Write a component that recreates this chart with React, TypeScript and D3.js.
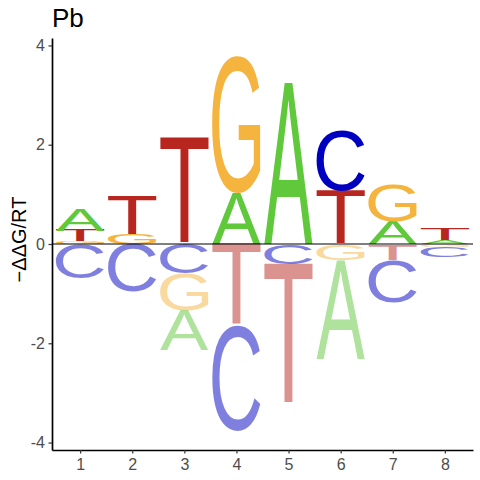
import { useEffect, useRef } from "react";
import * as d3 from "d3";

// Energy logo values (-ΔΔG/RT) per position, one array per base
const positions = [1, 2, 3, 4, 5, 6, 7, 8];
const bases = ["A", "C", "G", "T"];
const valuesA = [0.44, 0, -0.79, 1.03, 3.25, -1.99, 0.45, 0.07];
const valuesC = [-0.69, -0.97, -0.6, -2.13, -0.4, 1.23, -0.86, -0.21];
const valuesG = [0.05, 0.2, -0.74, 2.76, 0, -0.32, 0.74, -0.06];
const valuesT = [0.22, 0.79, 2.14, -1.64, -2.83, 1.08, -0.32, 0.24];
const yTicks = [-4, -2, 0, 2, 4];

const baseColors: Record<string, string> = {
  A: "#5FC83B",
  C: "#0000C0",
  G: "#F5B43E",
  T: "#B8271F",
};

const FONT = "Liberation Sans, Arial, sans-serif";

interface Metrics {
  left: number;
  right: number;
  ascent: number;
  descent: number;
}

function glyphMetrics(): Record<string, Metrics> {
  const canvas = document.createElement("canvas");
  const ctx = canvas.getContext("2d")!;
  ctx.font = `100px ${FONT}`;
  const out: Record<string, Metrics> = {};
  bases.forEach((b) => {
    const m = ctx.measureText(b);
    out[b] = {
      left: m.actualBoundingBoxLeft,
      right: m.actualBoundingBoxRight,
      ascent: m.actualBoundingBoxAscent,
      descent: m.actualBoundingBoxDescent,
    };
  });
  return out;
}

export default function App() {
  const svgRef = useRef<SVGSVGElement>(null);

  useEffect(() => {
    if (!svgRef.current) return;
    const svg = d3.select(svgRef.current);
    svg.selectAll("*").remove();

    const x = d3.scaleLinear().domain([0.46, 8.54]).range([52, 473]);
    const y = d3.scaleLinear().domain([-4.15, 4.15]).range([450, 38]);
    const letterWidth = 0.93;

    const series: Record<string, number[]> = {
      A: valuesA,
      C: valuesC,
      G: valuesG,
      T: valuesT,
    };
    const metrics = glyphMetrics();

    // Stack letters: smallest next to zero, largest furthest out
    const boxes: { base: string; pos: number; lo: number; hi: number; neg: boolean }[] = [];
    positions.forEach((p, i) => {
      const items = bases.map((b) => ({ base: b, v: series[b][i] }));
      const pos = items.filter((d) => d.v > 0.001).sort((a, b) => a.v - b.v);
      const neg = items.filter((d) => d.v < -0.001).sort((a, b) => b.v - a.v);
      let top = 0;
      pos.forEach((d) => {
        boxes.push({ base: d.base, pos: p, lo: top, hi: top + d.v, neg: false });
        top += d.v;
      });
      let bottom = 0;
      neg.forEach((d) => {
        boxes.push({ base: d.base, pos: p, lo: bottom + d.v, hi: bottom, neg: true });
        bottom += d.v;
      });
    });

    const letters = svg.append("g");
    boxes.forEach((d) => {
      const m = metrics[d.base];
      const x0 = x(d.pos - letterWidth / 2);
      const x1 = x(d.pos + letterWidth / 2);
      const yTop = y(d.hi);
      const yBot = y(d.lo);
      const sx = (x1 - x0) / (m.left + m.right);
      const sy = (yBot - yTop) / (m.ascent + m.descent);
      letters
        .append("text")
        .attr("font-family", FONT)
        .attr("font-size", 100)
        .attr("fill", baseColors[d.base])
        .attr("fill-opacity", d.neg ? 0.5 : 1)
        .attr(
          "transform",
          `translate(${x0},${yTop}) scale(${sx},${sy}) translate(${m.left},${m.ascent})`
        )
        .text(d.base);
    });

    // Zero line
    svg
      .append("line")
      .attr("x1", x.range()[0])
      .attr("x2", x.range()[1])
      .attr("y1", y(0))
      .attr("y2", y(0))
      .attr("stroke", "black")
      .attr("stroke-width", 1.1);

    // Axes
    const yAxis = svg
      .append("g")
      .attr("transform", `translate(${x.range()[0]},0)`)
      .call(
        d3
          .axisLeft(y)
          .tickValues(yTicks)
          .tickSize(3.5)
          .tickSizeOuter(0)
          .tickPadding(3.5)
          .tickFormat((d) => String(d))
      );
    yAxis.select(".domain").attr("stroke", "black").attr("stroke-width", 1.7);
    yAxis.selectAll(".tick line").attr("stroke", "#333333").attr("stroke-width", 1.2);
    yAxis
      .selectAll("text")
      .attr("font-family", FONT)
      .attr("font-size", 16)
      .attr("fill", "#4D4D4D");

    const xAxis = svg
      .append("g")
      .attr("transform", `translate(0,${y.range()[0]})`)
      .call(
        d3
          .axisBottom(x)
          .tickValues(positions)
          .tickSize(3.5)
          .tickSizeOuter(0)
          .tickPadding(5.5)
          .tickFormat((d) => String(d))
      );
    xAxis.select(".domain").attr("stroke", "black").attr("stroke-width", 1.7);
    xAxis.selectAll(".tick line").attr("stroke", "#333333").attr("stroke-width", 1.2);
    xAxis
      .selectAll("text")
      .attr("font-family", FONT)
      .attr("font-size", 16)
      .attr("fill", "#4D4D4D");

    // Y-axis label
    svg
      .append("text")
      .attr("transform", "translate(26,239.5) rotate(-90)")
      .attr("text-anchor", "middle")
      .attr("font-family", FONT)
      .attr("font-size", 20)
      .attr("fill", "black")
      .text("−ΔΔG/RT");

    // Title
    svg
      .append("text")
      .attr("x", 52)
      .attr("y", 27)
      .attr("font-family", FONT)
      .attr("font-size", 26)
      .attr("fill", "black")
      .text("Pb");
  }, []);

  return (
    <svg
      ref={svgRef}
      width={480}
      height={480}
      style={{ position: "absolute", left: 0, top: 0, background: "white" }}
    />
  );
}
